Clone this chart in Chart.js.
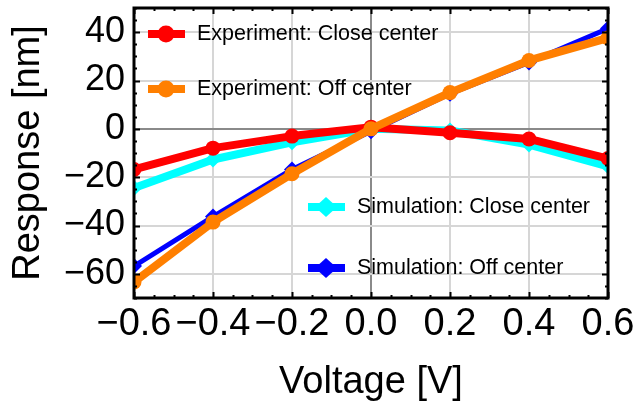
<!DOCTYPE html>
<html>
<head>
<meta charset="utf-8">
<script src="https://cdn.jsdelivr.net/npm/chart.js@4/dist/chart.umd.min.js"></script>
<style>
  html, body { margin: 0; padding: 0; background: #fff; }
  #wrap { width: 636px; height: 407px; }
</style>
</head>
<body>
<div id="wrap"><canvas id="plot" width="636" height="407"></canvas></div>
<script>
// measured response vs bias voltage
const voltages = [-0.6, -0.4, -0.2, 0.0, 0.2, 0.4, 0.6];
const expClose = [-16.8, -8.0, -3.0, 0.7, -1.6, -4.2, -12.3];
const expOff   = [-63.4, -38.6, -18.6, 0.0, 15.0, 28.3, 37.6];
const simClose = [-24.5, -12.7, -5.6, 0.0, -0.7, -6.5, -15.5];
const simOff   = [-56.8, -36.3, -16.8, -1.0, 14.5, 27.5, 41.5];

const xTicks = [-0.6, -0.4, -0.2, 0.0, 0.2, 0.4, 0.6];
const yTicks = [-60, -40, -20, 0, 20, 40];
const xMinor = 0.05;
const yMinor = 5;

const FONT = "'Liberation Sans', Arial, sans-serif";
Chart.defaults.font.family = FONT;

function fmt(v, d) {
    return (v < 0 ? '\u2212' : '') + Math.abs(v).toFixed(d);
}

function pairs(ys) {
    return voltages.map((x, i) => ({ x: x, y: ys[i] }));
}

// legend entries sit inside the frame, two top-left and two lower-right
const legendSpots = [
    { x: 148, y: 34 },
    { x: 148, y: 89 },
    { x: 308, y: 207 },
    { x: 308, y: 268 }
];

// frame with inward ticks on all four sides, then the legend
const framePlugin = {
    id: 'frame',
    afterDatasetsDraw(chart) {
        const { ctx, chartArea: a, scales } = chart;
        const xs = scales.x, ys = scales.y;
        ctx.save();
        ctx.strokeStyle = '#000';
        ctx.lineWidth = 2;
        for (let v = Math.ceil(xs.min / xMinor - 1e-6) * xMinor; v <= xs.max + 1e-9; v += xMinor) {
            const px = Math.round(xs.getPixelForValue(v)) + 0.5;
            const major = Math.abs(v / 0.2 - Math.round(v / 0.2)) < 1e-6;
            const len = major ? 6 : 3;
            ctx.beginPath();
            ctx.moveTo(px, a.bottom); ctx.lineTo(px, a.bottom - len);
            ctx.moveTo(px, a.top); ctx.lineTo(px, a.top + len);
            ctx.stroke();
        }
        for (let v = Math.ceil(ys.min / yMinor) * yMinor; v <= ys.max; v += yMinor) {
            const py = Math.round(ys.getPixelForValue(v)) + 0.5;
            const len = (v % 20 === 0) ? 6 : 3;
            ctx.beginPath();
            ctx.moveTo(a.left, py); ctx.lineTo(a.left + len, py);
            ctx.moveTo(a.right, py); ctx.lineTo(a.right - len, py);
            ctx.stroke();
        }
        ctx.lineWidth = 3;
        ctx.strokeRect(a.left, a.top, a.right - a.left, a.bottom - a.top);
        ctx.restore();
    },
    afterDraw(chart) {
        const ctx = chart.ctx;
        ctx.save();
        ctx.font = '21.5px ' + FONT;
        ctx.textBaseline = 'middle';
        chart.data.datasets.forEach((ds, i) => {
            const s = legendSpots[i];
            const cx = s.x + 18;
            ctx.strokeStyle = ds.borderColor;
            ctx.lineWidth = 8;
            ctx.lineCap = 'butt';
            ctx.beginPath();
            ctx.moveTo(s.x, s.y);
            ctx.lineTo(s.x + 37, s.y);
            ctx.stroke();
            ctx.fillStyle = ds.borderColor;
            ctx.beginPath();
            if (ds.pointStyle === 'circle') {
                ctx.arc(cx, s.y, 8.5, 0, Math.PI * 2);
            } else {
                ctx.moveTo(cx, s.y - 10);
                ctx.lineTo(cx + 11, s.y);
                ctx.lineTo(cx, s.y + 10);
                ctx.lineTo(cx - 11, s.y);
                ctx.closePath();
            }
            ctx.fill();
            ctx.fillStyle = '#000';
            ctx.fillText(ds.label, s.x + 49, s.y);
        });
        ctx.restore();
    }
};

const datasets = [
    {
        label: 'Experiment: Close center',
        data: pairs(expClose),
        borderColor: '#ff0000', backgroundColor: '#ff0000',
        borderWidth: 8, pointStyle: 'circle', pointRadius: 7.5,
        order: 2
    },
    {
        label: 'Experiment: Off center',
        data: pairs(expOff),
        borderColor: '#ff7f00', backgroundColor: '#ff7f00',
        borderWidth: 8, pointStyle: 'circle', pointRadius: 7.5,
        order: 1
    },
    {
        label: 'Simulation: Close center',
        data: pairs(simClose),
        borderColor: '#00ffff', backgroundColor: '#00ffff',
        borderWidth: 8, pointStyle: 'rectRot', pointRadius: 8,
        order: 4
    },
    {
        label: 'Simulation: Off center',
        data: pairs(simOff),
        borderColor: '#0000ff', backgroundColor: '#0000ff',
        borderWidth: 5, pointStyle: 'rectRot', pointRadius: 8,
        order: 3
    }
];
datasets.forEach(d => {
    d.pointBorderWidth = 0;
    d.tension = 0;
    d.clip = 0;
    d.borderJoinStyle = 'round';
});

function gridColor(c) {
    return c.tick && c.tick.value === 0 ? '#8a8a8a' : '#d6d6d6';
}

new Chart(document.getElementById('plot'), {
    type: 'line',
    data: { datasets: datasets },
    plugins: [framePlugin],
    options: {
        responsive: false,
        animation: false,
        layout: { padding: { left: 0, top: 7, right: 28, bottom: 0 } },
        plugins: { legend: { display: false }, tooltip: { enabled: false } },
        scales: {
            x: {
                type: 'linear',
                min: -0.6, max: 0.6,
                afterBuildTicks: s => { s.ticks = xTicks.map(v => ({ value: v })); },
                afterFit: s => {
                    s.height = 109;
                    s.paddingLeft = 0; s.paddingRight = 0;
                },
                border: { display: false },
                grid: { color: gridColor, lineWidth: 2, drawTicks: false },
                ticks: {
                    color: '#000', font: { size: 38 }, padding: 4,
                    maxRotation: 0, autoSkip: false,
                    callback: v => fmt(v, 1)
                },
                title: {
                    display: true, text: 'Voltage [V]', color: '#000',
                    font: { size: 38 }, padding: { top: 0, bottom: 2 }
                }
            },
            y: {
                type: 'linear',
                min: -70, max: 50,
                afterBuildTicks: s => { s.ticks = yTicks.map(v => ({ value: v })); },
                afterFit: s => {
                    s.width = 134;
                    s.paddingTop = 0; s.paddingBottom = 0;
                },
                border: { display: false },
                grid: { color: gridColor, lineWidth: 2, drawTicks: false },
                ticks: {
                    color: '#000', font: { size: 36 }, padding: 9,
                    autoSkip: false,
                    callback: v => fmt(v, 0)
                },
                title: {
                    display: true, text: 'Response [nm]', color: '#000',
                    font: { size: 38 }, padding: { top: 6, bottom: 0 }
                }
            }
        }
    }
});
</script>
</body>
</html>
